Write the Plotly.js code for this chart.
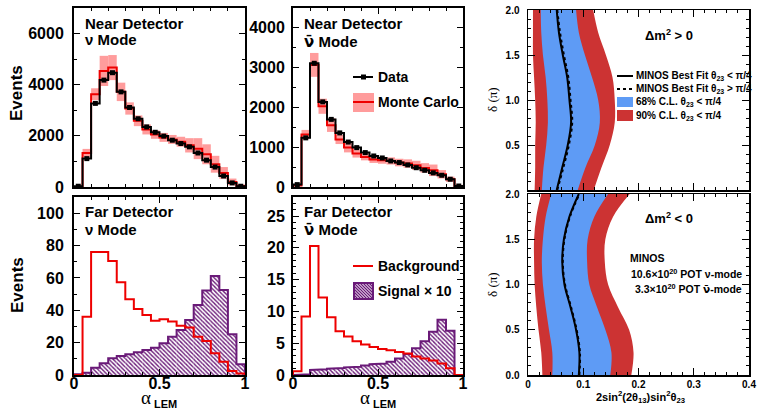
<!DOCTYPE html>
<html><head><meta charset="utf-8">
<script src="https://cdn.plot.ly/plotly-3.0.1.min.js"></script>
<style>body{margin:0;background:#fff}#chart{width:760px;height:410px}</style>
</head><body><div id="chart"></div>
<script>
// ---------- DATA ----------
const alphaEdges = [0,0.05,0.1,0.15,0.2,0.25,0.3,0.35,0.4,0.45,0.5,0.55,0.6,0.65,0.7,0.75,0.8,0.85,0.9,0.95,1.0];

// Near Detector, nu mode
const ndNuData = [30,1110,3270,4180,4470,3720,3110,2670,2350,2140,1990,1830,1700,1570,1330,1050,780,430,160,30];
const ndNuMC   = [0,1330,3630,4540,4670,3720,3070,2590,2250,2050,1940,1860,1770,1630,1500,1280,890,550,200,40];
const ndNuErr  = [0,160,230,590,490,360,240,210,195,165,175,175,195,280,410,390,330,230,130,60];

// Near Detector, antinu mode
const ndAnuData = [60,1235,3110,2140,1700,1360,1130,990,865,780,730,655,615,555,485,420,355,295,195,25];
const ndAnuMC   = [40,1320,3070,2030,1555,1195,990,840,755,690,670,655,615,590,545,480,420,320,195,25];
const ndAnuErr  = [10,115,300,190,170,115,120,100,85,85,85,90,95,105,115,120,145,105,65,30];

// Far Detector, nu mode
const fdNuBkg = [0,36,76,76,70.5,57.3,46.8,40.8,37.1,33.6,34.4,33.0,30.5,29.3,23.7,21.0,13.4,8.2,2.5,1.0];
const fdNuSig = [0.4,1.4,4.5,7.2,10.3,11.8,12.8,14.0,15.5,16.9,19.6,23.7,27.8,34.0,43.3,52.2,61.2,52.6,25.2,6.6];

// Far Detector, antinu mode
const fdAnuBkg = [0.6,9.2,20.3,12.2,9.1,6.9,6.05,5.3,4.8,4.4,4.1,3.9,3.6,3.4,2.9,2.6,2.3,1.8,1.05,0];
const fdAnuSig = [0,0.1,0.8,0.9,1.0,1.1,1.2,1.3,1.5,1.7,1.8,2.1,2.6,3.3,4.2,5.3,6.8,8.7,6.95,0];

// Contours, delta in units of pi
const deltaCP = [0,0.25,0.5,0.75,1.0,1.25,1.5,1.75,2.0];
// Delta m^2 > 0
const nhRed90Lo  = [0.012,0.013,0.013,0.014,0.013,0.011,0.009,0.009,0.009];
const nhBlue68Lo = [0.025,0.028,0.033,0.036,0.035,0.032,0.027,0.024,0.023];
const nhBestLo   = [0.052,0.062,0.072,0.078,0.075,0.071,0.063,0.056,0.052];
const nhBestHi   = [0.053,0.064,0.074,0.080,0.077,0.073,0.065,0.058,0.053];
const nhBlue68Hi = [0.090,0.104,0.121,0.130,0.127,0.116,0.103,0.092,0.087];
const nhRed90Hi  = [0.119,0.133,0.148,0.157,0.157,0.153,0.141,0.127,0.118];
// Delta m^2 < 0
const ihRed90Lo  = [0.026,0.024,0.019,0.015,0.012,0.011,0.011,0.015,0.024];
const ihBlue68Lo = [0.044,0.044,0.038,0.032,0.027,0.025,0.027,0.032,0.042];
const ihBestLo   = [0.092,0.093,0.087,0.077,0.066,0.062,0.065,0.075,0.092];
const ihBestHi   = [0.093,0.094,0.088,0.078,0.067,0.063,0.066,0.076,0.093];
const ihBlue68Hi = [0.149,0.151,0.140,0.125,0.111,0.107,0.108,0.120,0.145];
const ihRed90Hi  = [0.187,0.191,0.183,0.163,0.145,0.139,0.140,0.154,0.184];

// ---------- HELPERS ----------
const W = 760, H = 410;
const px = v => v / W, py = v => 1 - v / H;
const centers = alphaEdges.slice(0, -1).map((e, i) => (e + alphaEdges[i + 1]) / 2);
function step(vals) {
  const x = [alphaEdges[0]], y = [0];
  vals.forEach((v, i) => { x.push(alphaEdges[i], alphaEdges[i + 1]); y.push(v, v); });
  x.push(alphaEdges[alphaEdges.length - 1]); y.push(0);
  return {x, y};
}
const FONT = 'Liberation Sans, Arial, sans-serif';
const PINK = '#ff9c9c', RED = '#ee0000', PURPLE = '#6a1a78';
const BLUE = '#5e9bf5', DKRED = '#cc3333';

const traces = [];
function nearPanel(xa, ya, data, mc, err) {
  traces.push({type:'bar', x:centers, base:mc.map((m,i)=>m-err[i]), y:err.map(e=>2*e), width:0.05,
    marker:{color:PINK, line:{width:0}}, xaxis:xa, yaxis:ya, hoverinfo:'skip', showlegend:false});
  const m = step(mc);
  traces.push({type:'scatter', mode:'lines', x:m.x, y:m.y, line:{color:RED, width:2}, xaxis:xa, yaxis:ya, showlegend:false});
  const d = step(data);
  traces.push({type:'scatter', mode:'lines', x:d.x, y:d.y, line:{color:'black', width:2}, xaxis:xa, yaxis:ya, showlegend:false});
  traces.push({type:'scatter', mode:'markers', x:centers, y:data, marker:{symbol:'square', size:5, color:'black'}, xaxis:xa, yaxis:ya, showlegend:false});
}
function farPanel(xa, ya, bkg, sig) {
  traces.push({type:'bar', x:centers, y:sig, width:0.05,
    marker:{color:'white', line:{width:0}, pattern:{shape:'\\', fgcolor:PURPLE, bgcolor:'white', size:3, solidity:0.45}},
    xaxis:xa, yaxis:ya, hoverinfo:'skip', showlegend:false});
  const s = step(sig);
  traces.push({type:'scatter', mode:'lines', x:s.x, y:s.y, line:{color:PURPLE, width:2}, xaxis:xa, yaxis:ya, showlegend:false});
  const b = step(bkg);
  traces.push({type:'scatter', mode:'lines', x:b.x, y:b.y, line:{color:RED, width:2}, xaxis:xa, yaxis:ya, showlegend:false});
}
function contourPanel(xa, ya, rLo, bLo, best, best2, bHi, rHi) {
  const base = {type:'scatter', mode:'lines', y:deltaCP, xaxis:xa, yaxis:ya, showlegend:false, hoverinfo:'skip'};
  traces.push(Object.assign({}, base, {x:rLo, line:{width:0, shape:'spline'}}));
  traces.push(Object.assign({}, base, {x:rHi, line:{width:0, shape:'spline'}, fill:'tonextx', fillcolor:DKRED}));
  traces.push(Object.assign({}, base, {x:bLo, line:{width:0, shape:'spline'}}));
  traces.push(Object.assign({}, base, {x:bHi, line:{width:0, shape:'spline'}, fill:'tonextx', fillcolor:BLUE}));
  traces.push(Object.assign({}, base, {x:best2, line:{width:2, color:'black', dash:'dot', shape:'spline'}}));
  traces.push(Object.assign({}, base, {x:best, line:{width:2, color:'black', shape:'spline'}}));
}
nearPanel('x', 'y', ndNuData, ndNuMC, ndNuErr);
nearPanel('x2', 'y2', ndAnuData, ndAnuMC, ndAnuErr);
farPanel('x3', 'y3', fdNuBkg, fdNuSig);
farPanel('x4', 'y4', fdAnuBkg, fdAnuSig);
contourPanel('x5', 'y5', nhRed90Lo, nhBlue68Lo, nhBestLo, nhBestHi, nhBlue68Hi, nhRed90Hi);
contourPanel('x6', 'y6', ihRed90Lo, ihBlue68Lo, ihBestLo, ihBestHi, ihBlue68Hi, ihRed90Hi);

// ---------- AXES ----------
function axis(dom, isX, o) {
  const a = {
    domain: isX ? [px(dom[0]), px(dom[1])] : [py(dom[1]), py(dom[0])],
    range: o.range, autorange:false, fixedrange:true,
    showline:true, linecolor:'black', linewidth:o.lw || 2, mirror:'allticks',
    ticks:'inside', ticklen:o.tl || 6, tickwidth:1, tickcolor:'black',
    showgrid:false, zeroline:false,
    tickfont:{family:FONT, size:o.fs || 16, color:'black', weight:700},
    showticklabels: o.labels !== false,
    ticklabelstandoff: (o.so !== undefined) ? o.so : 3,
    minor:{tickmode:'linear', tick0:0, dtick:o.minor, ticks:'inside', ticklen:o.mtl || 3, tickcolor:'black', tickwidth:1, showgrid:false}
  };
  if (o.tickvals) { a.tickmode = 'array'; a.tickvals = o.tickvals; a.ticktext = o.ticktext; }
  else { a.tickmode = 'linear'; a.tick0 = 0; a.dtick = o.dtick; }
  if (o.fmt) a.tickformat = o.fmt;
  return a;
}
const A = [74,245], B = [293,463], R = [528,749];
const T = [8,187], Bt = [197,375];
const layout = {
  width: W, height: H, margin:{l:0, r:0, t:0, b:0},
  paper_bgcolor:'white', plot_bgcolor:'white', showlegend:false, barmode:'overlay',
  font:{family:FONT, color:'black'},
  xaxis:  axis(A, true, {range:[0,1], dtick:0.5, minor:0.1, labels:false}),
  yaxis:  axis(T, false, {range:[0,7000], dtick:2000, minor:1000, fmt:'d', so:5}),
  xaxis2: axis(B, true, {range:[0,1], dtick:0.5, minor:0.1, labels:false}),
  yaxis2: axis(T, false, {range:[0,4500], dtick:1000, minor:500, fmt:'d', so:3}),
  xaxis3: axis(A, true, {range:[0,1], dtick:0.5, minor:0.1, so:-7}),
  yaxis3: axis(Bt, false, {range:[0,110], dtick:20, minor:10, fmt:'d', so:5}),
  xaxis4: axis(B, true, {range:[0,1], dtick:0.5, minor:0.1, so:-7}),
  yaxis4: axis(Bt, false, {range:[0,28], dtick:5, minor:1, fmt:'d', so:3}),
  xaxis5: axis(R, true, {range:[0,0.4], dtick:0.1, minor:0.02, labels:false, lw:1.5, fs:10, tl:7}),
  yaxis5: axis([10,190], false, {range:[0,2], tickvals:[0.5,1,1.5,2], ticktext:['0.5','1.0','1.5','2.0'], minor:0.1, lw:1.5, fs:10, tl:7, so:5}),
  xaxis6: axis(R, true, {range:[0,0.4], dtick:0.1, minor:0.02, lw:1.5, fs:10, tl:7, so:-1}),
  yaxis6: axis([194,375], false, {range:[0,2], dtick:0.5, fmt:'.1f', minor:0.1, lw:1.5, fs:10, tl:7, so:5}),
};
['','2','3','4','5','6'].forEach(n => {
  layout['xaxis' + n].anchor = 'y' + n;
  layout['yaxis' + n].anchor = 'x' + n;
});

// ---------- TEXT ----------
const ann = [];
function txt(t, x, y, size, o = {}) {
  ann.push(Object.assign({text:t, x:px(x), y:py(y), xref:'paper', yref:'paper', showarrow:false,
    xanchor:'left', yanchor:'middle', borderpad:0, font:{family:FONT, size:size, color:'black', weight:700}}, o));
}
const NUBAR = '<span style="font-family:DejaVu Sans">ν\u0304</span>';
txt('Near Detector', 84, 23, 15); txt('ν Mode', 84, 40, 15);
txt('Near Detector', 303, 23, 15); txt(NUBAR + ' Mode', 303, 42, 15);
txt('Far Detector', 84, 211, 15); txt('ν Mode', 84, 229, 15);
txt('Far Detector', 303, 211, 15); txt(NUBAR + ' Mode', 303, 230, 15);
txt('Events', 17, 93, 17, {xanchor:'center', textangle:-90});
txt('Events', 17, 285, 17, {xanchor:'center', textangle:-90});
// alpha_LEM axis titles
const serif = s => ({family:'Liberation Serif', size:s, color:'black'});
txt('α', 146, 397, 19, {xanchor:'center', font:serif(19)});
txt('LEM', 153, 403.5, 11, {});
txt('α', 365, 397, 19, {xanchor:'center', font:serif(19)});
txt('LEM', 372, 403.5, 11, {});
// legends B and D
txt('Data', 377, 77, 14);
txt('Monte Carlo', 377, 102, 14);
txt('Background', 377, 266, 14);
txt('Signal × 10', 377, 291, 14);
// right panels
txt('δ (π)', 492, 100, 13, {xanchor:'center', textangle:-90, font:serif(13)});
txt('δ (π)', 492, 285, 13, {xanchor:'center', textangle:-90, font:serif(13)});
txt('2sin<sup>2</sup>(2θ<sub>13</sub>)sin<sup>2</sup>θ<sub>23</sub>', 640, 397, 11, {xanchor:'center'});
txt('Δm<sup>2</sup> > 0', 644, 35, 13);
txt('Δm<sup>2</sup> < 0', 644, 218, 13);
txt('MINOS Best Fit θ<sub>23</sub> < π/4', 635, 76, 10);
txt('MINOS Best Fit θ<sub>23</sub> > π/4', 635, 89, 10);
txt('68% C.L. θ<sub>23</sub> < π/4', 635, 102, 10);
txt('90% C.L. θ<sub>23</sub> < π/4', 635, 116, 10);
txt('MINOS', 629, 258, 10.5);
txt('10.6×10<sup>20</sup> POT ν-mode', 743, 273, 10.5, {xanchor:'right'});
txt('3.3×10<sup>20</sup> POT ' + NUBAR + '-mode', 743, 288, 10.5, {xanchor:'right'});
layout.annotations = ann;

// ---------- LEGEND SYMBOLS ----------
const sh = [];
const line = (x0, x1, y, color, w, dash) => sh.push({type:'line', xref:'paper', yref:'paper', x0:px(x0), x1:px(x1), y0:py(y), y1:py(y), line:{color, width:w, dash:dash || 'solid'}});
const rect = (x0, x1, y0, y1, fill, lc, lw) => sh.push({type:'rect', xref:'paper', yref:'paper', x0:px(x0), x1:px(x1), y0:py(y1), y1:py(y0), fillcolor:fill, line:{color:lc || fill, width:lw || 0}});
line(353, 373, 77, 'black', 2); rect(361, 366, 74.5, 79.5, 'black');
rect(353, 374, 93, 112, PINK); line(353, 374, 102, RED, 2);
line(353, 373, 266, RED, 2);
line(617, 633, 76, 'black', 2); line(617, 633, 89, 'black', 2, 'dot');
rect(617, 633, 97, 107, BLUE); rect(617, 633, 110, 121, DKRED);
layout.shapes = sh;

// hatched swatch for "Signal x 10"
let svg = "<svg xmlns='http://www.w3.org/2000/svg' width='21' height='18'><rect width='21' height='18' fill='white'/>";
for (let k = -18; k < 24; k += 3) svg += `<line x1='${k}' y1='0' x2='${k + 18}' y2='18' stroke='${PURPLE}' stroke-width='1.3'/>`;
svg += `<rect x='1' y='1' width='19' height='16' fill='none' stroke='${PURPLE}' stroke-width='2'/></svg>`;
layout.images = [{source:'data:image/svg+xml;charset=utf-8,' + encodeURIComponent(svg), xref:'paper', yref:'paper',
  x:px(353), y:py(282), sizex:21 / W, sizey:18 / H, sizing:'stretch', xanchor:'left', yanchor:'top', layer:'above'}];

Plotly.newPlot('chart', traces, layout, {staticPlot:true, displayModeBar:false});
</script></body></html>
